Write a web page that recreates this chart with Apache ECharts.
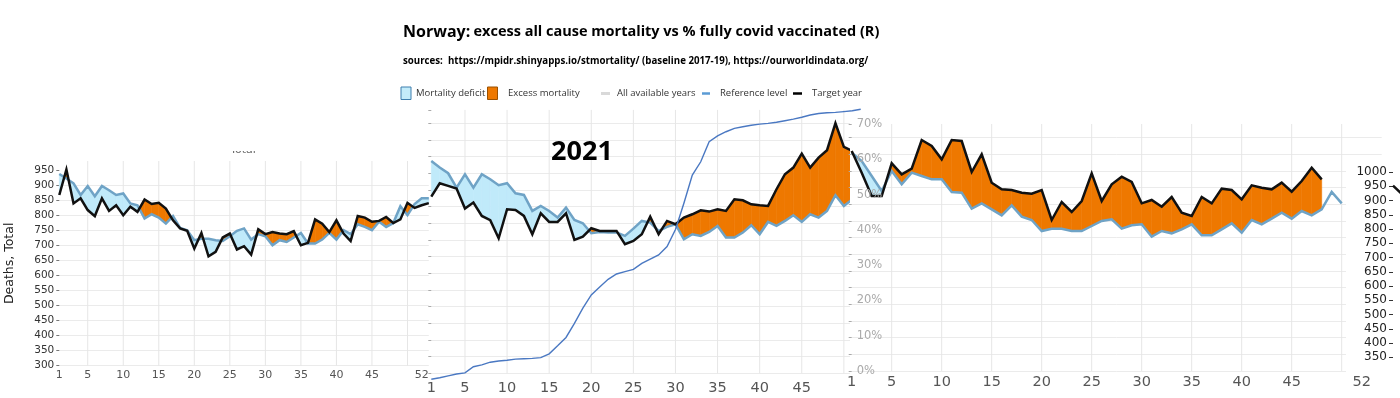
<!DOCTYPE html>
<html><head><meta charset="utf-8">
<script src="https://cdn.jsdelivr.net/npm/echarts@6/dist/echarts.min.js"></script>
<style>html,body{margin:0;padding:0;background:#fff;}#c{width:1400px;height:398px;}</style>
</head><body><div id="c"></div>
<script>
// ---- data (weekly deaths, Norway) ----
const deaths2020 = [867,952,839,856,817,797,856,814,833,800,828,811,852,837,841,822,783,756,748,689,741,663,678,726,739,686,697,669,753,737,744,739,737,747,700,708,786,772,744,783,739,714,797,792,778,781,794,774,786,841,824,833,840];
const ref2020 = [937,922,906,867,897,863,897,883,867,872,839,833,789,803,792,772,797,758,750,717,722,722,717,714,730,748,756,719,737,730,700,717,711,726,741,706,706,719,741,719,750,737,770,761,750,778,761,774,830,800,837,856,856];
const deaths2021 = [830,870,862,854,794,812,772,759,705,792,790,772,717,780,754,754,780,700,710,735,727,727,727,687,697,717,770,717,757,747,767,777,789,785,792,787,822,819,807,804,802,852,897,917,959,917,947,969,1050,979,967,930];
const ref2021 = [937,917,900,857,897,857,897,882,864,870,840,835,787,802,787,767,797,760,750,720,724,722,722,712,734,757,752,727,739,747,702,717,712,724,742,707,707,722,744,717,754,742,757,774,754,777,767,787,834,802,822,815];
const vaccinated2021 = [0,0.4,0.9,1.4,1.7,3.3,3.8,4.5,4.8,5.0,5.3,5.4,5.5,5.7,6.7,8.8,11.0,14.7,18.7,22.2,24.3,26.3,27.7,28.3,28.9,30.5,31.6,32.7,34.9,39.4,46.3,53.7,57.2,62.5,64.0,65.1,66.0,66.4,66.8,67.1,67.3,67.6,68.0,68.4,68.9,69.5,69.9,70.1,70.2,70.4,70.6,71.0];
const deaths2022 = [960,895,825,825,923,890,907,993,975,935,993,990,897,950,865,845,843,835,832,843,753,807,777,810,893,810,860,883,867,803,813,793,822,775,765,822,803,847,843,815,857,850,845,865,838,870,910,875];
const ref2022 = [955,930,885,840,900,860,895,885,875,875,837,835,787,803,785,767,797,763,753,720,727,727,720,720,735,750,755,727,737,740,703,720,713,725,740,707,707,725,743,715,753,740,757,775,757,780,767,785,837,803];
const deaths2023 = [952,920];

// ---- tick labels ----
const weekLabels2020 = [1,5,10,15,20,25,30,35,40,45,52];
const weekLabels2021 = [1,5,10,15,20,25,30,35,40,45];
const weekLabels2022 = [1,5,10,15,20,25,30,35,40,45,52];
const gridWeeks = [5,10,15,20,25,30,35,40,45,50];
const deathTicks = [300,350,400,450,500,550,600,650,700,750,800,850,900,950];
const deathTicksRight = [350,400,450,500,550,600,650,700,750,800,850,900,950,1000];

// ---- styles ----
const ORANGE = '#ee7800', LIGHTBLUE = '#c0eafa', REFC = '#6fa3c6', GRIDC = '#e6e6e6';
const AXF = 'DejaVu Sans';

function pts(arr){ return arr.map((v,i)=>[i+1,v]); }

function fillSeries(black, ref, xi, yi, z){
  const n = Math.min(black.length, ref.length);
  const segs = [];
  for (let i=0;i<n-1;i++) segs.push([i+1, black[i]]);
  return {type:'custom', xAxisIndex:xi, yAxisIndex:yi, z, silent:true, clip:false, data:segs,
    renderItem(params, api){
      const i = api.value(0)-1;
      const b0=black[i], b1=black[i+1], r0=ref[i], r1=ref[i+1];
      const x0=i+1, x1=i+2, d0=b0-r0, d1=b1-r1;
      const P=(x,y)=>api.coord([x,y]);
      const col=d=>d>0?ORANGE:LIGHTBLUE;
      const parts=[];
      if (d0*d1>=0){
        parts.push([[P(x0,b0),P(x1,b1),P(x1,r1),P(x0,r0)], col(d0+d1)]);
      } else {
        const t=d0/(d0-d1), xc=x0+t, yc=b0+t*(b1-b0);
        parts.push([[P(x0,b0),P(xc,yc),P(x0,r0)], col(d0)]);
        parts.push([[P(xc,yc),P(x1,b1),P(x1,r1)], col(d1)]);
      }
      return {type:'group', children: parts.map(([p,c])=>({type:'polygon', shape:{points:p}, style:{fill:c, stroke:c, lineWidth:0.6}}))};
    }};
}
function vGrid(xi, yi, yVal, z){
  return {type:'custom', xAxisIndex:xi, yAxisIndex:yi, z, silent:true, clip:false,
    data: gridWeeks.map(w=>[w,yVal]),
    renderItem(params, api){
      const p = api.coord([api.value(0), api.value(1)]);
      const cs = params.coordSys;
      return {type:'line', shape:{x1:p[0], y1:cs.y, x2:p[0], y2:cs.y+cs.height}, style:{stroke:GRIDC, lineWidth:1}};
    }};
}
function lineS(data, xi, yi, color, width, z){
  return {type:'line', xAxisIndex:xi, yAxisIndex:yi, data:pts(data), symbol:'none', showSymbol:false, z, silent:true, clip:false,
    lineStyle:{color, width, join:'miter'}};
}
function xAx(gi, min, max, labels, fs, margin, z){
  return {type:'value', gridIndex:gi, min, max, z,
    axisLine:{show:false}, axisTick:{show:false}, splitLine:{show:false},
    axisLabel:{customValues:labels, color:'#555', fontSize:fs, fontFamily:AXF, margin, formatter:v=>String(v)}};
}

const chart = echarts.init(document.getElementById('c'), null, {renderer:'canvas'});
chart.setOption({
  animation:false,
  backgroundColor:'#fff',
  grid:[
    {left:59.3, top:161, width:369.5, height:204.7, containLabel:false, outerBoundsMode:'none'},
    {left:431.3, top:109.9, width:429.4, height:263.4, containLabel:false, outerBoundsMode:'none'},
    {left:851.7, top:124, width:530, height:247, containLabel:false, outerBoundsMode:'none'},
    {left:1393, top:172, width:500, height:199.6, containLabel:false, outerBoundsMode:'none'}
  ],
  xAxis:[
    xAx(0,1,53,weekLabels2020,11,4,1),
    xAx(1,1,52,weekLabels2021,14.5,7,6),
    xAx(2,1,54,weekLabels2022,14.5,4,21),
    {type:'value', gridIndex:3, min:1, max:52, show:false}
  ],
  yAxis:[
    {type:'value', gridIndex:0, min:300, max:980, interval:50, z:1,
     axisLine:{show:false},
     axisTick:{show:true, length:3, customValues:deathTicks, lineStyle:{color:'#777'}},
     axisLabel:{customValues:deathTicks, color:'#333', fontSize:10.5, fontFamily:AXF, margin:5, formatter:v=>String(v)},
     splitLine:{show:true, showMaxLine:false, lineStyle:{color:'#ebebeb'}},
     name:'Deaths, Total', nameLocation:'middle', nameGap:43,
     nameTextStyle:{fontSize:12.5, color:'#222', fontFamily:AXF}},
    {type:'value', gridIndex:1, min:300, max:1090, interval:50, z:6,
     axisLine:{show:false}, axisLabel:{show:false},
     axisTick:{show:true, length:3, lineStyle:{color:'#aaa'}},
     splitLine:{show:true, showMaxLine:false, lineStyle:{color:'#ebebeb'}}},
    {type:'value', gridIndex:1, min:1.58, max:70.84, show:false},
    {type:'value', gridIndex:2, min:300, max:1041, interval:50, z:11,
     axisLine:{show:false}, axisLabel:{show:false},
     axisTick:{show:true, length:3, lineStyle:{color:'#aaa'}},
     splitLine:{show:true, showMaxLine:false, lineStyle:{color:'#ebebeb'}}},
    {type:'value', gridIndex:2, min:0, max:70, interval:10, position:'left', z:15,
     axisLine:{show:false}, axisTick:{show:false}, splitLine:{show:false},
     axisLabel:{inside:true, formatter:'{value}%', color:'#aaa', fontSize:11.5, fontFamily:AXF, margin:5}},
    {type:'value', gridIndex:3, min:300, max:1000, z:21,
     axisLine:{show:false}, splitLine:{show:false},
     axisTick:{show:true, length:4, customValues:deathTicksRight, lineStyle:{color:'#333'}},
     axisLabel:{customValues:deathTicksRight, color:'#222', fontSize:12, fontFamily:AXF, margin:6, formatter:v=>String(v)}}
  ],
  series:[
    vGrid(0,0,300,1),
    fillSeries(deaths2020, ref2020, 0,0, 2),
    lineS(ref2020,0,0,REFC,2.5,3),
    lineS(deaths2020,0,0,'#111',2.5,4),

    vGrid(1,1,300,6),
    fillSeries(deaths2021, ref2021, 1,1, 7),
    lineS(ref2021,1,1,REFC,2.5,8),
    lineS(deaths2021,1,1,'#111',2.5,9),
    lineS(vaccinated2021,1,2,'#4a78c2',1.4,9),

    vGrid(2,3,300,11),
    fillSeries(deaths2022, ref2022, 2,3, 12),
    lineS(ref2022,2,3,REFC,2.5,13),
    lineS(deaths2022,2,3,'#111',2.5,14),

    lineS(deaths2023,3,5,'#111',2.5,22)
  ],
  graphic:{elements:[
    {type:'rect', z:5, shape:{x:430, y:106, width:970, height:292}, style:{fill:'#fff'}},
    {type:'rect', z:10, shape:{x:850, y:113, width:550, height:285}, style:{fill:'#fff'}},
    {type:'rect', z:20, shape:{x:1346, y:160, width:54, height:238}, style:{fill:'#fff'}},
    {type:'text', z:1, x:243, y:150, style:{text:'Total', font:'11px "DejaVu Sans"', fill:'#666', align:'center', textAlign:'center', verticalAlign:'middle', textVerticalAlign:'middle'}},
    {type:'rect', z:2, shape:{x:210, y:130, width:70, height:21}, style:{fill:'#fff'}},
    {type:'text', z:11, x:1110, y:120, style:{text:'Total', font:'11px "DejaVu Sans"', fill:'#888', align:'center', textAlign:'center', verticalAlign:'middle', textVerticalAlign:'middle'}},
    {type:'rect', z:11.5, shape:{x:1080, y:108, width:60, height:15.5}, style:{fill:'#fff'}},
    {type:'text', z:9, x:582, y:152, style:{text:'2021', font:'bold 27px "Open Sans"', fill:'#000', align:'center', textAlign:'center', verticalAlign:'middle', textVerticalAlign:'middle'}},
    {type:'text', z:30, x:403, y:32, style:{text:'{a|Norway:} {b|excess all cause mortality vs % fully covid vaccinated (R)}',
      verticalAlign:'middle', textVerticalAlign:'middle',
      rich:{a:{font:'bold 16px "Open Sans"', fill:'#000'}, b:{font:'bold 14.5px "Open Sans"', fill:'#000'}}}},
    {type:'text', z:30, x:403, y:61, style:{text:'sources:  https://mpidr.shinyapps.io/stmortality/ (baseline 2017-19), https://ourworldindata.org/',
      font:'bold 9.7px "Open Sans"', fill:'#000', verticalAlign:'middle', textVerticalAlign:'middle'}},
    {type:'rect', z:30, shape:{x:401, y:87, width:10, height:12.5}, style:{fill:'#c3ecfa', stroke:'#3f7fae', lineWidth:1}},
    {type:'text', z:30, x:416, y:93.5, style:{text:'Mortality deficit', font:'9.5px "Open Sans"', fill:'#333', verticalAlign:'middle', textVerticalAlign:'middle'}},
    {type:'rect', z:30, shape:{x:487.5, y:87, width:10, height:12.5}, style:{fill:ORANGE, stroke:'#9a5000', lineWidth:1}},
    {type:'text', z:30, x:508, y:93.5, style:{text:'Excess mortality', font:'9.5px "Open Sans"', fill:'#333', verticalAlign:'middle', textVerticalAlign:'middle'}},
    {type:'line', z:30, shape:{x1:601, y1:93.5, x2:610, y2:93.5}, style:{stroke:'#d9d9d9', lineWidth:3}},
    {type:'text', z:30, x:617, y:93.5, style:{text:'All available years', font:'9.5px "Open Sans"', fill:'#333', verticalAlign:'middle', textVerticalAlign:'middle'}},
    {type:'line', z:30, shape:{x1:702, y1:93.5, x2:710, y2:93.5}, style:{stroke:'#5b9bd5', lineWidth:2.5}},
    {type:'text', z:30, x:720, y:93.5, style:{text:'Reference level', font:'9.5px "Open Sans"', fill:'#333', verticalAlign:'middle', textVerticalAlign:'middle'}},
    {type:'line', z:30, shape:{x1:793, y1:93.5, x2:802, y2:93.5}, style:{stroke:'#000', lineWidth:2.5}},
    {type:'text', z:30, x:812, y:93.5, style:{text:'Target year', font:'9.5px "Open Sans"', fill:'#333', verticalAlign:'middle', textVerticalAlign:'middle'}}
  ]}
});
</script></body></html>
